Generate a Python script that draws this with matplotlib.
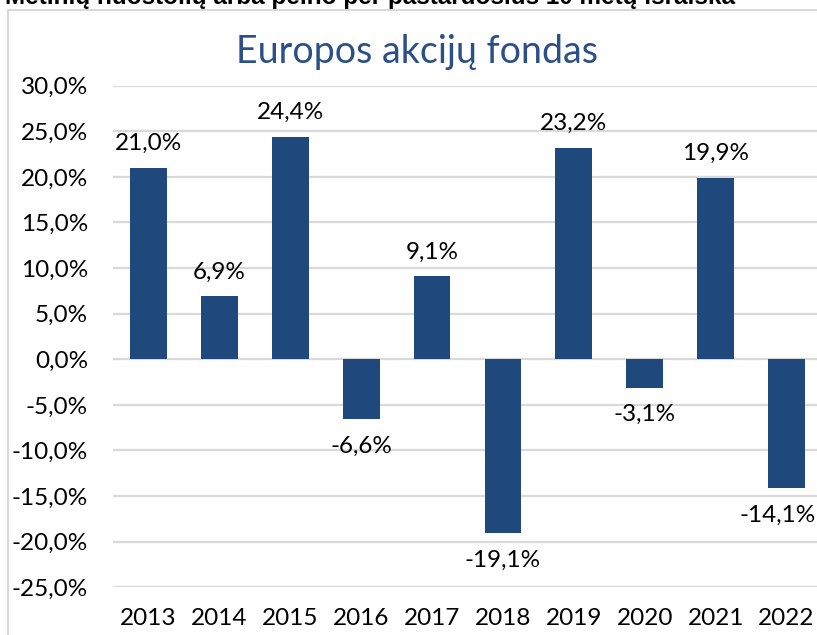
import matplotlib
matplotlib.use("Agg")
import matplotlib.pyplot as plt
from matplotlib.lines import Line2D

years = ["2013", "2014", "2015", "2016", "2017", "2018", "2019", "2020", "2021", "2022"]
returns = [21.0, 6.9, 24.4, -6.6, 9.1, -19.1, 23.2, -3.1, 19.9, -14.1]
yticks = [30, 25, 20, 15, 10, 5, 0, -5, -10, -15, -20, -25]
title = "Europos akcijų fondas"
header = "Metinių nuostolių arba pelno per pastaruosius 10 metų išraiška"

W, H = 817, 635
fig = plt.figure(figsize=(W / 100, H / 100), dpi=100)
fig.patch.set_facecolor("white")

left = 113 / W
right = 822 / W
top = 1 - 85.7 / H
bottom = 1 - 587.3 / H
ax = fig.add_axes([left, bottom, right - left, top - bottom])

bar_color = "#1f497d"
grid_color = "#d9d9d9"
font = "Lato"

x = list(range(len(years)))
ax.bar(x, returns, width=0.52, color=bar_color, zorder=3)
ax.set_xlim(-0.5, len(years) - 0.5)
ax.set_ylim(-25, 30)
ax.set_yticks(yticks)
ax.set_yticklabels([f"{v:.1f}%".replace(".", ",") for v in yticks], fontsize=17.5, family=font)
ax.set_xticks(x)
ax.set_xticklabels(years, fontsize=17.5, family=font)
ax.tick_params(axis="y", length=0, pad=18)
ax.tick_params(axis="x", length=0, pad=15)
for s in ax.spines.values():
    s.set_visible(False)
ax.yaxis.grid(True, color=grid_color, linewidth=1.6, zorder=0)
ax.set_axisbelow(True)

n = len(returns)
for i, (xi, v) in enumerate(zip(x, returns)):
    lbl = f"{v:.1f}%".replace(".", ",")
    dx = -6.5 if i == n - 1 else 0
    if v >= 0:
        ax.annotate(lbl, (xi, v), xytext=(dx, 10), textcoords="offset points",
                    ha="center", va="bottom", fontsize=17.5, family=font, color="black")
    else:
        ax.annotate(lbl, (xi, v), xytext=(dx, -12), textcoords="offset points",
                    ha="center", va="top", fontsize=17.5, family=font, color="black")

fig.text(417 / W, 1 - 52 / H, title, ha="center", va="center", fontsize=27,
         family=font, color="#2a5087")

# chart frame (cropped)
fig.add_artist(Line2D([8 / W, 8 / W], [0, 1 - 10 / H], color=grid_color, linewidth=1.5,
                      transform=fig.transFigure))
fig.add_artist(Line2D([8 / W, 1], [1 - 10 / H, 1 - 10 / H], color=grid_color, linewidth=1.5,
                      transform=fig.transFigure))

# cropped header text at top
fig.text(5 / W, 1 - 4 / H, header, ha="left", va="baseline", fontsize=17.5,
         family="Liberation Sans", fontweight="bold", color="black")

fig.savefig("out.png", dpi=100)
